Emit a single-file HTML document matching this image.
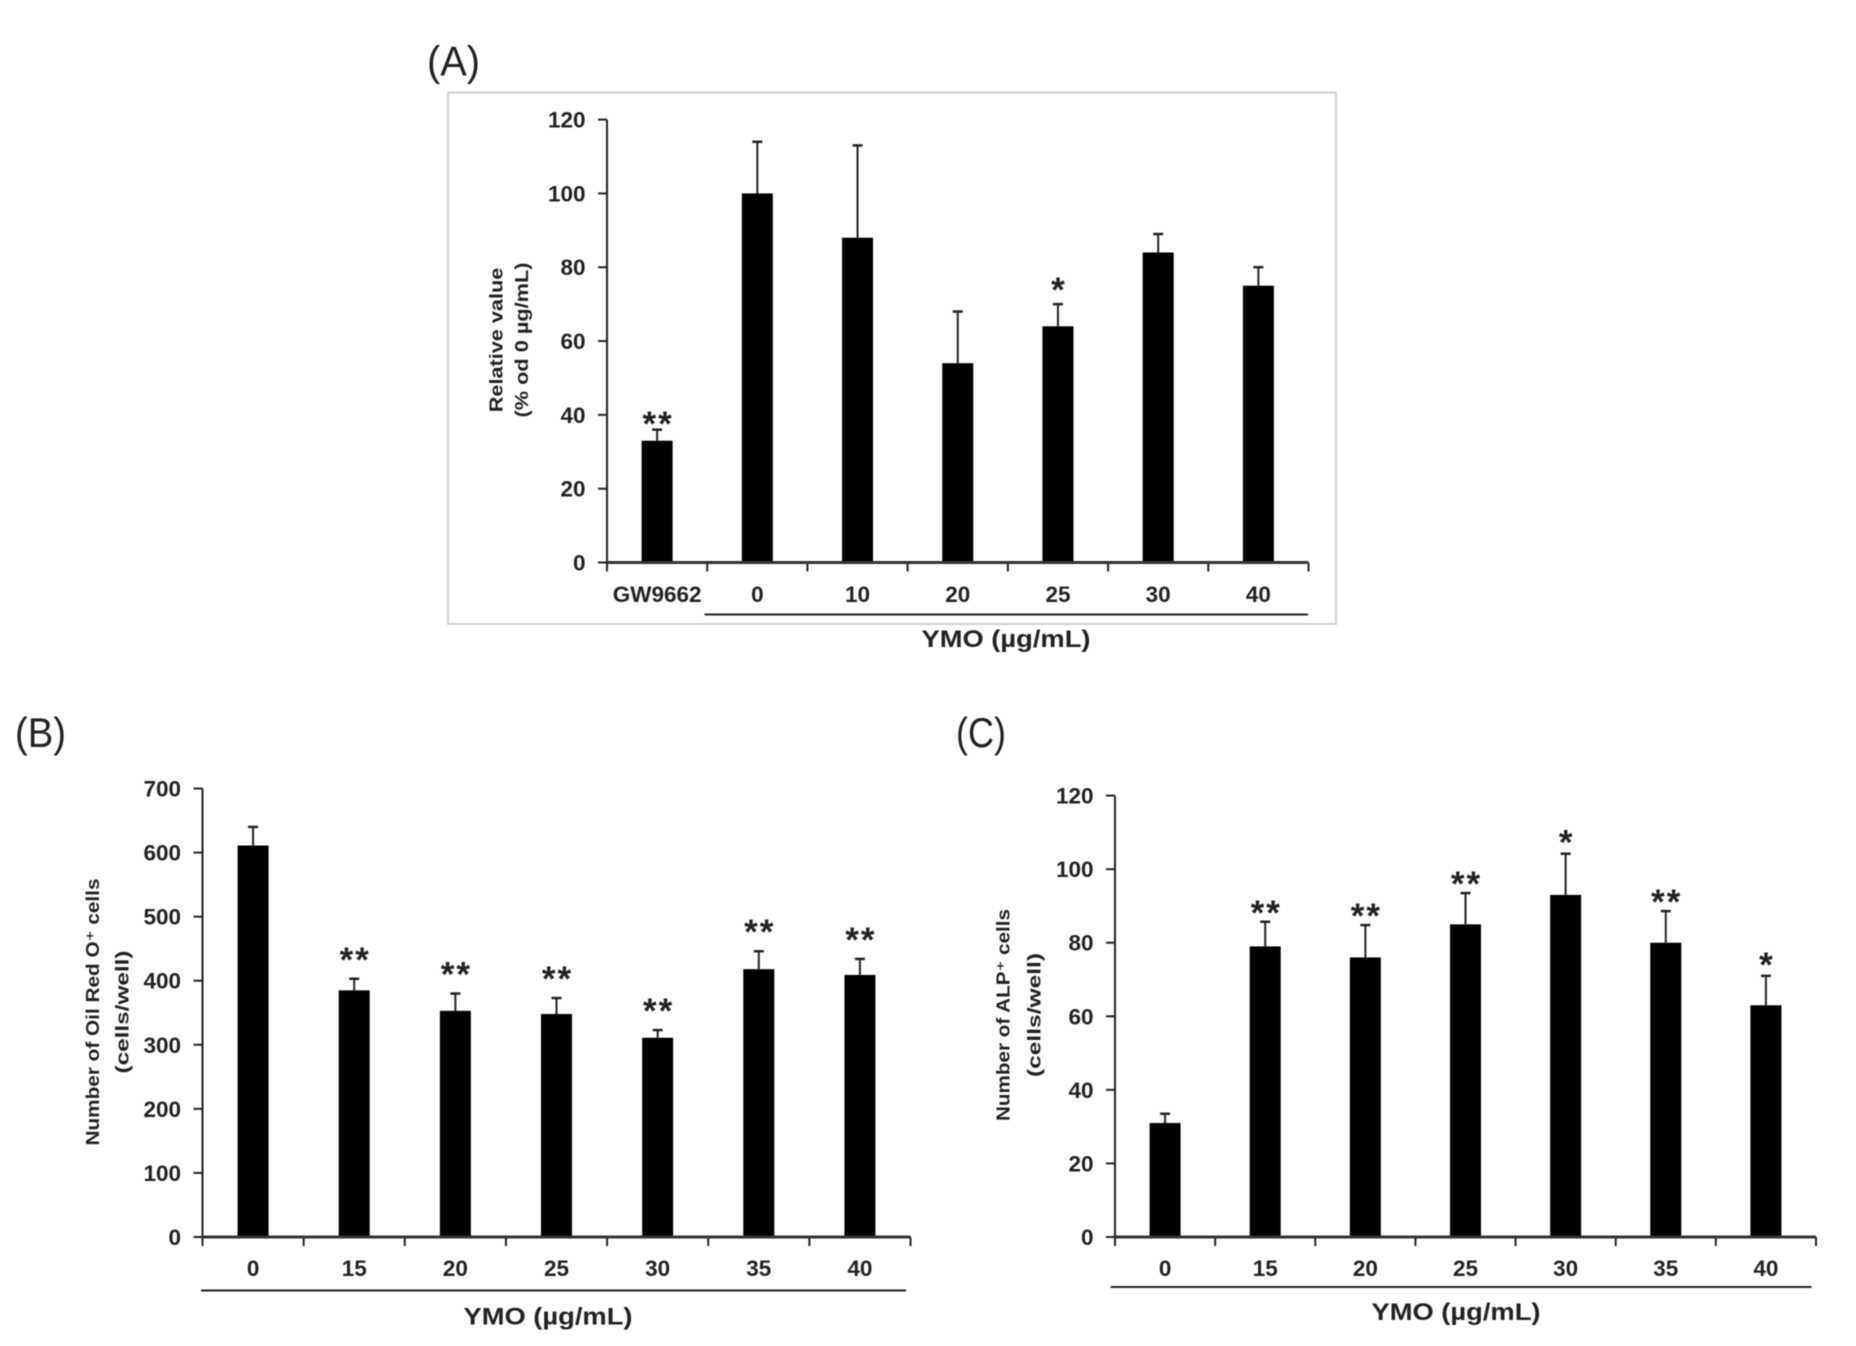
<!DOCTYPE html>
<html lang="en">
<head>
<meta charset="utf-8">
<title>YMO bar charts</title>
<style>
html,body{margin:0;padding:0;background:#fff;width:1856px;height:1346px;overflow:hidden}
svg{display:block;filter:blur(.6px)}
text{font-family:"Liberation Sans","DejaVu Sans",sans-serif;fill:#222}
</style>
</head>
<body>
<svg id="figure" xmlns="http://www.w3.org/2000/svg" width="1856" height="1346" viewBox="0 0 1856 1346">
  <rect x="448" y="92.5" width="888" height="531.5" fill="#fff" stroke="#cfcfcf" stroke-width="2"/>
  <text x="427" y="75.5" font-size="42" textLength="53" lengthAdjust="spacingAndGlyphs">(A)</text>
  <text x="15" y="747" font-size="42" textLength="51" lengthAdjust="spacingAndGlyphs">(B)</text>
  <text x="956" y="747" font-size="42" textLength="50" lengthAdjust="spacingAndGlyphs">(C)</text>
</svg>
<script>
var aCategories = ["GW9662", "0", "10", "20", "25", "30", "40"];
var aValues = [33, 100, 88, 54, 64, 84, 75];
var aErrorTops = [36, 114, 113, 68, 70, 89, 80];
var aStars = ["**", "", "", "", "*", "", ""];
var aTicks = [0, 20, 40, 60, 80, 100, 120];

var bCategories = ["0", "15", "20", "25", "30", "35", "40"];
var bValues = [611, 385, 353, 348, 311, 418, 409];
var bErrorTops = [640, 403, 380, 373, 323, 446, 434];
var bStars = ["", "**", "**", "**", "**", "**", "**"];
var bTicks = [0, 100, 200, 300, 400, 500, 600, 700];

var cCategories = ["0", "15", "20", "25", "30", "35", "40"];
var cValues = [31, 79, 76, 85, 93, 80, 63];
var cErrorTops = [33.5, 85.7, 84.8, 93.5, 104.2, 88.6, 71];
var cStars = ["", "**", "**", "**", "*", "**", "*"];
var cTicks = [0, 20, 40, 60, 80, 100, 120];

var svg = document.getElementById('figure');
var NS = 'http://www.w3.org/2000/svg';

function make(tag, attrs, parent) {
  var el = document.createElementNS(NS, tag);
  for (var k in attrs) el.setAttribute(k, attrs[k]);
  parent.appendChild(el);
  return el;
}

function drawPanel(p, categories, values, errorTops, stars, ticks) {
  var g = make('g', {}, svg);
  
  
  var maxTick = ticks[ticks.length - 1];
  var yScale = function (v) { return p.y0 - (v / maxTick) * (p.y0 - p.yTop); };
  var band = (p.x1 - p.x0) / categories.length;
  var xScale = function (i) { return p.x0 + (i + 0.5) * band; };

  ticks.forEach(function (t) {
    var tick = make('line', {x1: p.x0 - 9, x2: p.x0, y1: yScale(t), y2: yScale(t), stroke: '#222', 'stroke-width': 2}, g);
    
    
    var label = make('text', {x: p.x0 - 21.5, y: yScale(t) + 8, 'font-size': 22.5, 'font-weight': 'bold', 'text-anchor': 'end'}, g);
    label.textContent = String(t);
    
    
  });

  categories.forEach(function (c, i) {
    var w = p.barWidth;
    var top = yScale(values[i]);
    var bar = make('rect', {x: xScale(i) - w / 2, y: top, width: w, height: p.y0 - top, fill: '#000'}, g);
    
    

    var errY = yScale(errorTops[i]);
    var stem = make('line', {x1: xScale(i), x2: xScale(i), y1: top, y2: errY, stroke: '#222', 'stroke-width': 2}, g);
    
    
    var cap = make('line', {x1: xScale(i) - 5, x2: xScale(i) + 5, y1: errY, y2: errY, stroke: '#222', 'stroke-width': 2.5}, g);
    
    

    if (stars[i]) {
      var gap = stars[i].length === 2 ? p.gapDouble : p.gapSingle;
      var star = make('text', {x: xScale(i) + 1, y: errY - gap + 15, 'font-size': 35, 'font-weight': 'bold', 'text-anchor': 'middle', 'letter-spacing': 2}, g);
      star.textContent = stars[i];
      
      
    }

    var label = make('text', {x: xScale(i), y: p.xLabelY, 'font-size': 22.5, 'font-weight': 'bold', 'text-anchor': 'middle'}, g);
    label.textContent = c;
    
    
  });

  for (var i = 0; i <= categories.length; i++) {
    var xt = p.x0 + i * band;
    var xtick = make('line', {x1: xt, x2: xt, y1: p.y0, y2: p.y0 + 9, stroke: '#222', 'stroke-width': 2}, g);
    
    
  }

  var yAxis = make('line', {x1: p.x0, x2: p.x0, y1: p.yTop, y2: p.y0, stroke: '#222', 'stroke-width': 2}, g);
  
  
  var xAxis = make('line', {x1: p.x0, x2: p.x1, y1: p.y0, y2: p.y0, stroke: '#333', 'stroke-width': 3}, g);
  
  

  var rule = make('line', {x1: p.ruleX0, x2: p.ruleX1, y1: p.ruleY, y2: p.ruleY, stroke: '#222', 'stroke-width': 2}, g);
  
  

  var xTitle = make('text', {x: p.xTitleX, y: p.xTitleY, 'font-size': 24, 'font-weight': 'bold', 'text-anchor': 'middle', textLength: 169, lengthAdjust: 'spacingAndGlyphs'}, g);
  xTitle.textContent = 'YMO (\u00b5g/mL)';
  
  

  var t1 = make('text', {transform: 'translate(' + p.t1X + ',' + p.tY + ') rotate(-90)', 'font-size': 18, 'font-weight': 'bold', 'text-anchor': 'middle', textLength: p.t1Len, lengthAdjust: 'spacingAndGlyphs'}, g);
  t1.textContent = p.t1;
  
  
  var t2 = make('text', {transform: 'translate(' + p.t2X + ',' + p.tY + ') rotate(-90)', 'font-size': 18, 'font-weight': 'bold', 'text-anchor': 'middle', textLength: p.t2Len, lengthAdjust: 'spacingAndGlyphs'}, g);
  t2.textContent = p.t2;
  
  
}

drawPanel({id: 'panel-a', x0: 607, x1: 1308.5, y0: 562.5, yTop: 119.6, barWidth: 31, xLabelY: 602,
  gapDouble: 8.5, gapSingle: 17,
  ruleX0: 704.5, ruleX1: 1308, ruleY: 614.5, xTitleX: 1006, xTitleY: 647,
  t1: 'Relative value', t1Len: 144.5, t2: '(% od 0 \u00b5g/mL)', t2Len: 155, t1X: 502.5, t2X: 528, tY: 340},
  aCategories, aValues, aErrorTops, aStars, aTicks);

drawPanel({id: 'panel-b', x0: 202.5, x1: 910.5, y0: 1237, yTop: 788.5, barWidth: 31, xLabelY: 1276,
  gapDouble: 22, gapSingle: 22,
  ruleX0: 201, ruleX1: 906, ruleY: 1290.5, xTitleX: 548, xTitleY: 1324.5,
  t1: 'Number of Oil Red O\u207a cells', t1Len: 267, t2: '(cells/well)', t2Len: 123, t1X: 99, t2X: 128.5, tY: 1012},
  bCategories, bValues, bErrorTops, bStars, bTicks);

drawPanel({id: 'panel-c', x0: 1115, x1: 1816, y0: 1237, yTop: 795.6, barWidth: 31, xLabelY: 1276,
  gapDouble: 12, gapSingle: 14,
  ruleX0: 1110.6, ruleX1: 1811.5, ruleY: 1287, xTitleX: 1456, xTitleY: 1320,
  t1: 'Number of ALP\u207a cells', t1Len: 212, t2: '(cells/well)', t2Len: 124, t1X: 1009.5, t2X: 1040.5, tY: 1015},
  cCategories, cValues, cErrorTops, cStars, cTicks);
</script>
</body>
</html>
